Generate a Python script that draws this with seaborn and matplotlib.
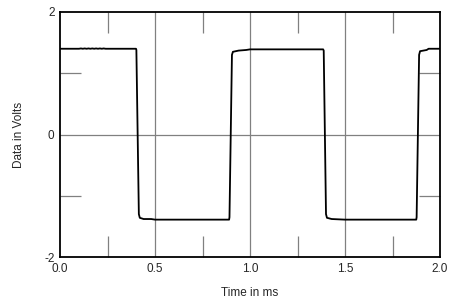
import matplotlib
matplotlib.use("Agg")
import matplotlib.pyplot as plt
import seaborn as sns
import pandas as pd
from matplotlib.ticker import MultipleLocator

# waveform corners (time in ms, volts)
time_ms = [0.0, 0.10, 0.11, 0.12, 0.13, 0.14, 0.15, 0.16, 0.17, 0.18, 0.19,
           0.20, 0.21, 0.22, 0.23, 0.24, 0.25, 0.400,
           0.402, 0.415, 0.420, 0.44, 0.48, 0.50, 0.890,
           0.892, 0.905, 0.910, 0.94, 0.98, 1.00, 1.385,
           1.388, 1.400, 1.405, 1.43, 1.50, 1.875,
           1.877, 1.890, 1.895, 1.93, 1.94, 2.00]
volts = [1.40, 1.40, 1.405, 1.40, 1.405, 1.40, 1.405, 1.40, 1.405, 1.40, 1.405,
         1.40, 1.405, 1.40, 1.405, 1.40, 1.40, 1.40,
         1.38, -1.30, -1.36, -1.38, -1.38, -1.39, -1.39,
         -1.35, 1.30, 1.35, 1.37, 1.38, 1.39, 1.39,
         1.37, -1.30, -1.36, -1.38, -1.39, -1.39,
         -1.35, 1.30, 1.36, 1.38, 1.40, 1.40]

x_ticks = [0.0, 0.5, 1.0, 1.5, 2.0]
x_labels = ["0.0", "0.5", "1.0", "1.5", "2.0"]
y_ticks = [-2, 0, 2]
y_labels = ["-2", "0", "2"]

df = pd.DataFrame({"t": time_ms, "v": volts})

sns.set_style("white")
plt.rcParams["font.family"] = ["Liberation Sans", "DejaVu Sans"]

fig = plt.figure(figsize=(4.5, 2.99), dpi=100)
ax = fig.add_axes([60 / 450, 1 - 257 / 299, 380 / 450, 245 / 299])

# grid lines at major positions
for x in [0.5, 1.0, 1.5]:
    ax.axvline(x, color="#808080", lw=0.9, zorder=1)
ax.axhline(0, color="#808080", lw=0.9, zorder=1)

sns.lineplot(data=df, x="t", y="v", ax=ax, color="black", lw=1.3,
             estimator=None, sort=False, zorder=3)

ax.set_xlim(0, 2)
ax.set_ylim(-2, 2)
ax.set_xticks(x_ticks)
ax.set_xticklabels(x_labels)
ax.set_yticks(y_ticks)
ax.set_yticklabels(y_labels)
ax.xaxis.set_minor_locator(MultipleLocator(0.25))
ax.yaxis.set_minor_locator(MultipleLocator(1))
ax.tick_params(which="major", length=0, labelsize=8.5, pad=4)
ax.tick_params(which="minor", direction="in", length=15, width=0.9,
               color="#808080", top=True, right=True, bottom=True, left=True)

for s in ax.spines.values():
    s.set_color("black")
    s.set_linewidth(1.3)

ax.set_xlabel("Time in ms", fontsize=8.5, labelpad=9)
ax.set_ylabel("Data in Volts", fontsize=8.5, labelpad=14)

fig.savefig("out.png", dpi=100)
